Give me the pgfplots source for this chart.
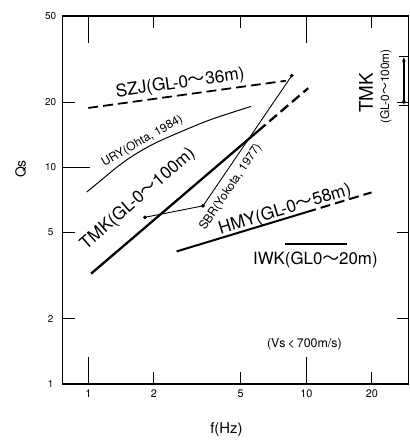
\documentclass[border=0pt]{standalone}
\usepackage{pgfplots}
\pgfplotsset{compat=1.18}
\usepackage{fontspec}
\setmainfont{TeX Gyre Heros}
\newfontfamily\cjk{Noto Sans CJK JP}
\newcommand{\wave}{{\cjk 〜}}
\usetikzlibrary{arrows.meta}
\begin{document}
\begin{tikzpicture}
\begin{axis}[
  scale only axis, width=348bp, height=370bp,
  xmode=log, ymode=log,
  xmin=0.763, xmax=29.5, ymin=1, ymax=50,
  axis line style={line width=1.3bp},
  tick align=inside,
  major tick length=12bp,
  minor tick num=0,
  every tick/.style={black, line width=1bp},
  xtick={2,5,20}, xticklabels={2,5,20},
  extra x ticks={1,10}, extra x tick labels={1,10},
  extra x tick style={major tick length=27bp},
  ytick={1,2,5,20,50}, yticklabels={1,2,5,20,50},
  extra y ticks={10}, extra y tick labels={10},
  extra y tick style={major tick length=28bp, ytick pos=left},
  xticklabel style={anchor=center, yshift=-10bp, font=\fontsize{11}{13}\selectfont},
  yticklabel style={anchor=center, xshift=-12bp, font=\fontsize{10}{12}\selectfont},
  xlabel={f(Hz)},
  xlabel style={at={(axis description cs:0.473,-0.1243)}, anchor=center, font=\fontsize{15}{17}\selectfont},
  ylabel={Qs},
  ylabel style={at={(axis description cs:-0.1207,0.584)}, anchor=center, font=\fontsize{14}{16}\selectfont},
  clip=false,
]
% SZJ
\addplot[black, line width=1.8bp, dash pattern=on 10bp off 5bp] coordinates {(1.0,18.8) (8.05,25.1)};
% URY
\addplot[black, line width=1bp, smooth] coordinates {(0.985,7.7) (1.15,8.75) (1.35,10.0) (1.6,11.3) (2.0,12.85) (2.7,14.7) (3.7,16.7) (5.57,19.1)};
% TMK solid
\addplot[black, line width=2.3bp] coordinates {(1.03,3.23) (6.0,14.7)};
% TMK dashed
\addplot[black, line width=2.3bp, dash pattern=on 10bp off 5bp] coordinates {(6.0,14.7) (10.2,23.2)};
% SBR
\addplot[black, line width=0.9bp, mark=*, mark size=1.4bp] coordinates {(1.82,5.88) (3.36,6.64) (8.57,26.5)};
% HMY solid
\addplot[black, line width=2bp] coordinates {(2.54,4.09) (10.0,6.21)};
% HMY dashed
\addplot[black, line width=2bp, dash pattern=on 10bp off 5bp] coordinates {(10.0,6.21) (19.9,7.66)};
% IWK
\addplot[black, line width=2bp] coordinates {(8.0,4.43) (15.4,4.43)};
% TMK range bar
\addplot[black, line width=1.3bp, {Latex[length=5bp,width=4bp]}-{Latex[length=5bp,width=4bp]}, mark=-, mark size=5bp, mark options={solid, line width=1.5bp}] coordinates {(28.0,19.3) (28.0,32.4)};

\node[rotate=8, font=\fontsize{17.5}{20}\selectfont] at (axis cs:2.64,24.4) {SZJ(GL-0\wave 36m)};
\node[rotate=30, font=\fontsize{12}{14}\selectfont] at (axis cs:1.77,13.2) {URY(Ohta, 1984)};
\node[rotate=41, font=\fontsize{17.5}{20}\selectfont] at (axis cs:1.69,7.14) {TMK(GL-0\wave 100m)};
\node[rotate=56, font=\fontsize{12}{14}\selectfont] at (axis cs:4.50,8.11) {SBR(Yokota, 1977)};
\node[rotate=17, font=\fontsize{17.5}{20}\selectfont] at (axis cs:7.98,6.36) {HMY(GL-0\wave 58m)};
\node[font=\fontsize{17}{20}\selectfont] at (axis cs:11.0,3.75) {IWK(GL0\wave 20m)};
\node[font=\fontsize{12.5}{14}\selectfont] at (axis cs:9.79,1.53) {(Vs\,<\,700m/s)};
\node[rotate=90, font=\fontsize{19}{22}\selectfont] at (axis cs:18.8,22.1) {TMK};
\node[rotate=90, font=\fontsize{12}{14}\selectfont] at (axis cs:23.2,23.6) {(GL-0\wave 100m)};

\coordinate (SW) at (rel axis cs:0,0);
\coordinate (NE) at (rel axis cs:1,1);
\end{axis}
\path ([shift={(-63bp,-54bp)}]SW) rectangle ([shift={(1bp,16bp)}]NE);
\end{tikzpicture}
\end{document}
